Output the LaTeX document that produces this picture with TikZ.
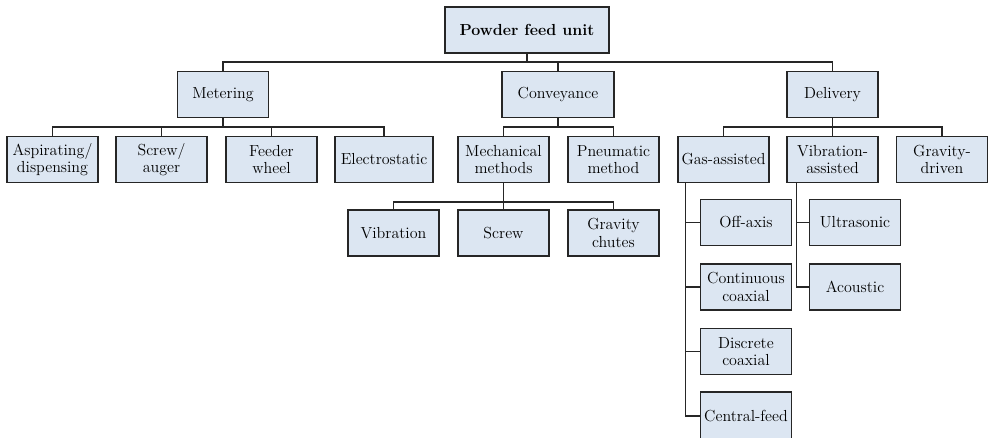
\documentclass[tikz,border=0pt]{standalone}
\usepackage{tikz}
\usepackage{xcolor}
\definecolor{boxblue}{HTML}{DCE6F2}
\tikzset{
  unitbox/.style={draw=black!85,fill=boxblue,line width=1.1pt,minimum width=68pt,minimum height=34.5pt,align=center,inner sep=1pt,font=\fontsize{12}{13}\selectfont},
  link/.style={line width=1pt,black!85}
}

\begin{document}
\begin{tikzpicture}[x=0.75pt,y=-0.75pt]
\useasboundingbox (0,0) rectangle (988,438);
\node[unitbox,minimum width=123pt,font=\fontsize{12}{13}\selectfont\bfseries] (pfu) at (527,30) {Powder feed unit};
\node[unitbox] (met) at (223,94.5) {Metering};
\node[unitbox,minimum width=84pt] (cnv) at (558,94.5) {Conveyance};
\node[unitbox] (del) at (832.5,94.5) {Delivery};
\node[unitbox] (asp) at (52.5,159.5) {Aspirating/\\dispensing};
\node[unitbox] (scr) at (161.5,159.5) {Screw/\\auger};
\node[unitbox] (fee) at (271.5,159.5) {Feeder\\wheel};
\node[unitbox,minimum width=73.5pt] (ele) at (384,159.5) {Electrostatic};
\node[unitbox] (mec) at (503.5,159.5) {Mechanical\\methods};
\node[unitbox] (pne) at (613.5,159.5) {Pneumatic\\method};
\node[unitbox] (gas) at (723.5,159.5) {Gas-assisted};
\node[unitbox] (vib) at (832.5,159.5) {Vibration-\\assisted};
\node[unitbox] (gra) at (942,159.5) {Gravity-\\driven};
\node[unitbox] (vbr) at (393.5,233) {Vibration};
\node[unitbox] (scw) at (503.5,233) {Screw};
\node[unitbox] (gch) at (613.5,233) {Gravity\\chutes};
\node[unitbox] (off) at (746,222.5) {Off-axis};
\node[unitbox] (ccx) at (746,287) {Continuous\\coaxial};
\node[unitbox] (dcx) at (746,351.5) {Discrete\\coaxial};
\node[unitbox,minimum height=36pt] (cen) at (746,416) {Central-feed};
\node[unitbox] (ult) at (855,222.5) {Ultrasonic};
\node[unitbox] (aco) at (855,287) {Acoustic};
% bus points
\coordinate (tb) at (527,62);
\coordinate (mtb) at (223,127);
\coordinate (cvb) at (558,127);
\coordinate (dvb) at (832.5,127);
\coordinate (mbus) at (503.5,202);
\coordinate (gasT) at ([xshift=6pt]gas.south west);
\coordinate (vibT) at ([xshift=7.5pt]vib.south west);
% top level
\draw[link] (pfu.south) -- (tb);
\draw[link] (met.north) |- (tb) -| (del.north);
\draw[link] (cnv.north) |- (tb);
% metering
\draw[link] (met.south) -- (mtb);
\draw[link] (asp.north) |- (mtb) -| (ele.north);
\draw[link] (scr.north) |- (mtb);
\draw[link] (fee.north) |- (mtb);
% conveyance
\draw[link] (cnv.south) -- (cvb);
\draw[link] (mec.north) |- (cvb) -| (pne.north);
\draw[link] (mec.south) -- (scw.north);
\draw[link] (vbr.north) |- (mbus) -| (gch.north);
% delivery
\draw[link] (del.south) -- (dvb);
\draw[link] (gas.north) |- (dvb) -| (gra.north);
\draw[link] (vib.north) -- (dvb);
\draw[link] (gasT) |- (cen.west);
\draw[link] (gasT) |- (off.west);
\draw[link] (gasT) |- (ccx.west);
\draw[link] (gasT) |- (dcx.west);
\draw[link] (vibT) |- (aco.west);
\draw[link] (vibT) |- (ult.west);
\end{tikzpicture}
\end{document}
